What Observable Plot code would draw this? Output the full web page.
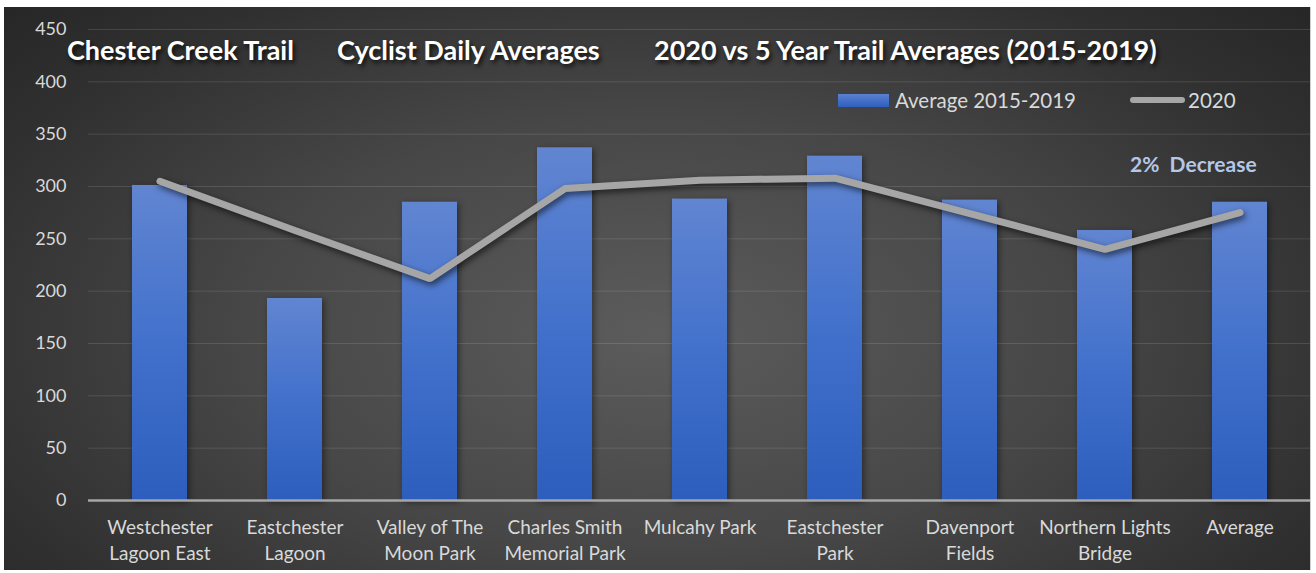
<!DOCTYPE html>
<html>
<head>
<meta charset="utf-8">
<script src="https://cdn.jsdelivr.net/npm/d3@7"></script>
<script src="https://cdn.jsdelivr.net/npm/@observablehq/plot@0.6"></script>
<style>
  html, body { margin: 0; padding: 0; background: #ffffff; }
  body { width: 1316px; height: 573px; position: relative; overflow: hidden; font-family: Lato, "Open Sans", sans-serif; }
  #frame {
    position: absolute; left: 4px; top: 7px; width: 1306px; height: 563px;
    background: radial-gradient(ellipse 70% 85% at 50% 58%, #5c5c5c 0%, #474747 45%, #303030 80%, #262626 100%);
    border-right: 1px solid #cfcfcf;
  }
  #chart { position: absolute; left: 0; top: 0; }
  .ttl { position: absolute; color: #ffffff; font-weight: 700; font-size: 27px; white-space: nowrap;
         text-shadow: 2px 3px 4px rgba(0,0,0,0.75); line-height: 1; }
  .leg { position: absolute; color: #d9d9d9; font-size: 20.5px; white-space: nowrap; line-height: 1; }
  #note { position: absolute; color: #b4c7e7; font-weight: 700; font-size: 21px; white-space: nowrap; line-height: 1; }
  svg g[aria-label="line"] { filter: drop-shadow(2px 3px 3px rgba(0,0,0,0.6)); }
  svg g[aria-label="bar"] { filter: drop-shadow(2px 2px 3px rgba(0,0,0,0.45)); }
</style>
</head>
<body>
<div id="frame">
  <div id="chart"></div>
  <div class="ttl" style="left:63px; top:29px;">Chester Creek Trail</div>
  <div class="ttl" style="left:333px; top:29px;">Cyclist Daily Averages</div>
  <div class="ttl" style="left:650px; top:29px;">2020 vs 5 Year Trail Averages (2015-2019)</div>
  <div style="position:absolute; left:834px; top:87px; width:51px; height:13px; background:linear-gradient(#5b80d0,#2f5fbf);"></div>
  <div class="leg" style="left:891px; top:83px;">Average 2015-2019</div>
  <div style="position:absolute; left:1126px; top:90px; width:55px; height:6px; border-radius:3px; background:#a6a6a6;"></div>
  <div class="leg" style="left:1184px; top:83px;">2020</div>
  <div id="note" style="left:1126px; top:146px;">2%&nbsp; Decrease</div>
</div>
<script>
const categories = ["Westchester Lagoon East", "Eastchester Lagoon", "Valley of The Moon Park", "Charles Smith Memorial Park", "Mulcahy Park", "Eastchester Park", "Davenport Fields", "Northern Lights Bridge", "Average"];
const tickLabels = ["Westchester\nLagoon East", "Eastchester\nLagoon", "Valley of The\nMoon Park", "Charles Smith\nMemorial Park", "Mulcahy Park", "Eastchester\nPark", "Davenport\nFields", "Northern Lights\nBridge", "Average"];
const avg2015_2019 = [301, 193, 285, 337, 288, 329, 287, 258, 285];
const y2020 = [305, 258, 212, 298, 306, 308, 274, 240, 275];
const yTicks = [0, 50, 100, 150, 200, 250, 300, 350, 400, 450];

const data = categories.map((c, i) => ({cat: c, avg: avg2015_2019[i], v2020: y2020[i]}));

const chart = Plot.plot({
  width: 1306,
  height: 563,
  marginLeft: 84,
  marginRight: 0,
  marginTop: 22,
  marginBottom: 70,
  style: {background: "transparent", color: "#d9d9d9", fontFamily: "Lato, 'Open Sans', sans-serif"},
  x: {domain: categories, paddingInner: 0.595, paddingOuter: 0.2975},
  y: {domain: [0, 450]},
  marks: [
    Plot.gridY(yTicks, {stroke: "#ffffff", strokeOpacity: 0.12, strokeWidth: 1}),
    Plot.axisY(yTicks, {tickSize: 0, tickPadding: 22, fontSize: 18, label: null, fill: "#d9d9d9"}),
    Plot.axisX({tickSize: 0, tickPadding: 15, fontSize: 19, label: null, fill: "#d9d9d9", lineHeight: 1.37,
      tickFormat: d => tickLabels[categories.indexOf(d)]}),
    Plot.barY(data, {x: "cat", y: "avg", fill: "url(#barGrad)"}),
    Plot.ruleY([0], {stroke: "#a6a6a6", strokeWidth: 2.5}),
    Plot.line(data, {x: "cat", y: "v2020", stroke: "#a6a6a6", strokeWidth: 7, strokeLinecap: "round", strokeLinejoin: "miter"})
  ]
});

const defs = d3.select(chart).insert("defs", ":first-child");
const g = defs.append("linearGradient").attr("id", "barGrad").attr("x1", 0).attr("y1", 0).attr("x2", 0).attr("y2", 1);
g.append("stop").attr("offset", "0%").attr("stop-color", "#6185d1");
g.append("stop").attr("offset", "50%").attr("stop-color", "#4271cc");
g.append("stop").attr("offset", "100%").attr("stop-color", "#2d5ebd");

document.getElementById("chart").appendChild(chart);
</script>
</body>
</html>
